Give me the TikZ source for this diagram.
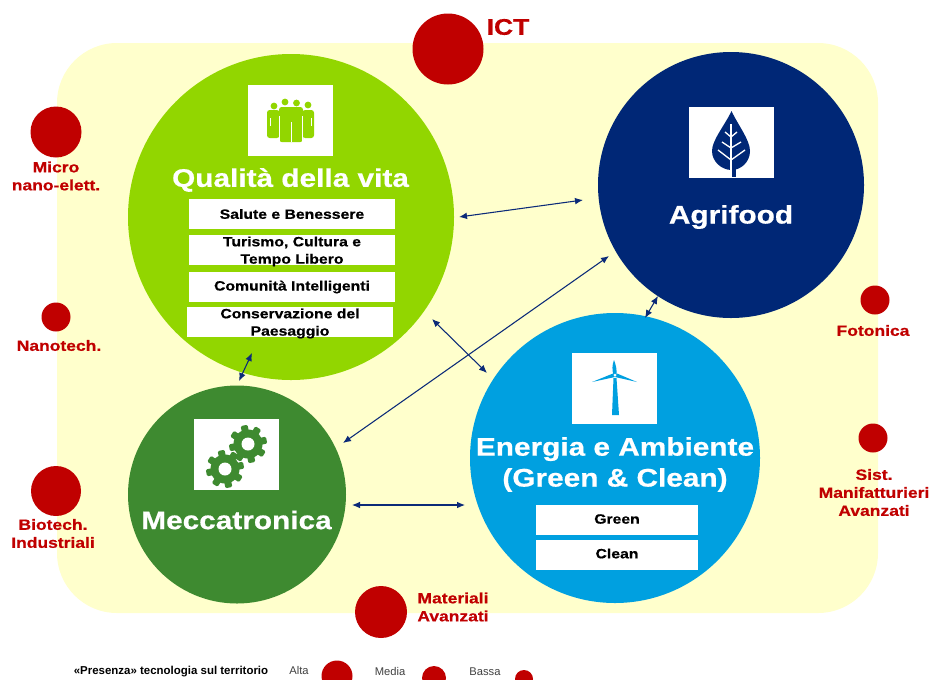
\documentclass[tikz,border=0pt]{standalone}
\usepackage{fontspec}
\usetikzlibrary{arrows.meta}
\setmainfont{Liberation Sans}
\newfontfamily\widefont{Liberation Sans}[FakeStretch=1.17,BoldFeatures={FakeStretch=1.17,FakeBold=0.6}]
\definecolor{crema}{HTML}{FFFFCC}
\definecolor{vita}{HTML}{92D600}
\definecolor{agri}{HTML}{002776}
\definecolor{ener}{HTML}{00A0E0}
\definecolor{mecc}{HTML}{3E8A30}
\definecolor{rosso}{HTML}{C00000}
\definecolor{freccia}{HTML}{0B2A78}
\newcommand{\gearicon}[2]{%
  \fill[mecc] (#1,#2) circle (14.5);
  \foreach \a in {0,45,...,315}
    \fill[mecc,rounded corners=1pt,rotate around={\a+12:(#1,#2)}] (#1-3.5,#2-12) rectangle (#1+3.5,#2-19);
  \fill[white] (#1,#2) circle (6.5);
}
\tikzset{
  px/.style={x=0.75pt,y=-0.75pt},
  disc/.style={circle,inner sep=0pt,minimum size=#1*0.75pt},
  icona/.style={fill=white,inner sep=0pt,minimum width=85*0.75pt,minimum height=71*0.75pt},
  voce/.style={fill=white,inner sep=0pt,minimum width=206*0.75pt,minimum height=30*0.75pt,align=center,
    font=\widefont\bfseries\fontsize{10.1}{13}\selectfont},
  titolo/.style={text=white,align=center,inner sep=0pt,
    font=\widefont\bfseries\fontsize{19.1}{23.2}\selectfont},
  tecno/.style={text=rosso,align=center,inner sep=0pt,
    font=\widefont\bfseries\fontsize{11.2}{13.5}\selectfont},
  legenda/.style={inner sep=0pt,text=black!75,font=\fontsize{8.4}{10}\selectfont},
  legame/.style={{Latex[length=6pt,width=5pt]}-{Latex[length=6pt,width=5pt]},freccia,line width=0.8pt},
}
\begin{document}
\begin{tikzpicture}[px]
      \useasboundingbox (0,0) rectangle (931,679);
      \clip (0,0) rectangle (931,679);
      \fill[crema,rounded corners=45pt] (57,43) rectangle (878,613);
      % aree
      \draw
        (291,217) node[disc=326,fill=vita] (vita){}
        (731,185) node[disc=266,fill=agri] (agrifood){}
        (615,458) node[disc=290,fill=ener] (energia){}
        (237,494.5) node[disc=218,fill=mecc] (meccatronica){};
      % tecnologie
      \draw
        (448,49) node[disc=71,fill=rosso] (ict){}
        (56,132) node[disc=51,fill=rosso] (micro){}
        (56,317) node[disc=29,fill=rosso] (nano){}
        (56,491) node[disc=50,fill=rosso] (biotech){}
        (875,300) node[disc=29,fill=rosso] (fotonica){}
        (873,438) node[disc=29,fill=rosso] (sist){}
        (381,612) node[disc=52,fill=rosso] (materiali){}
        (337,676) node[disc=31,fill=rosso] (alta){}
        (434,678) node[disc=24,fill=rosso] (media){}
        (524,679) node[disc=18,fill=rosso] (bassa){};
      \draw
        (508,27) node[tecno,font=\widefont\bfseries\fontsize{17}{18}\selectfont] (ictlab){ICT}
        (56,176) node[tecno] (microlab){Micro\\nano-elett.}
        (59,345.5) node[tecno] (nanolab){Nanotech.}
        (53,533.5) node[tecno] (biotechlab){Biotech.\\Industriali}
        (873,330.5) node[tecno] (fotonicalab){Fotonica}
        (874,492.5) node[tecno] (sistlab){Sist.\\Manifatturieri\\Avanzati}
        (453,607) node[tecno] (materialilab){Materiali\\Avanzati};
      % icone
      \draw
        (290.5,120) node[icona] (iconavita){}
        (731,142.5) node[icona] (iconaagri){}
        (614.5,388.5) node[icona] (iconaener){}
        (236.5,454) node[icona] (iconamecc){};
      % persone
      \begin{scope}[vita]
        \foreach \cx/\cy in {274/106,285/102,296.5/103,308/105}
          \fill (\cx,\cy) circle (3.4);
        \fill[rounded corners=2pt] (267,110) rectangle (279.5,138);
        \fill[rounded corners=2pt] (302.5,110) rectangle (314,138);
        \fill[rounded corners=2pt] (279,107) rectangle (303,142);
        \draw[white,line width=0.5pt] (270.5,118) -- (270.5,126);
        \draw[white,line width=0.5pt] (311,118) -- (311,126);
        \draw[white,line width=0.5pt] (279.5,116) -- (279.5,142);
        \draw[white,line width=0.5pt] (291,122) -- (291,142);
        \draw[white,line width=0.5pt] (302.5,116) -- (302.5,142);
      \end{scope}
      % foglia
      \fill[agri] (731.5,111) .. controls (725,125) and (712,140) .. (712,151)
        .. controls (712,162) and (722,170) .. (731.5,170)
        .. controls (741,170) and (750,162) .. (750,151)
        .. controls (750,140) and (738,125) .. (731.5,111) -- cycle;
      \fill[agri] (731,169) rectangle (736,177);
      \begin{scope}[white,line width=1pt]
        \draw (731,124) -- (731,177);
        \draw (718,150) -- (731,160) -- (745,150);
        \draw (722,142) -- (731,148) -- (741,142);
        \draw (725,132) -- (731,137) -- (737,132);
      \end{scope}
      % pala eolica
      \fill[ener] (613.5,378) -- (616.5,378) -- (619,415) -- (612,415) -- cycle;
      \fill[ener] (614,360) .. controls (612,365) and (612,370) .. (613.5,375) -- (616.5,375) .. controls (617,370) and (616,365) .. (614,360) -- cycle;
      \fill[ener] (592,382) -- (613,373.5) -- (615,377) -- cycle;
      \fill[ener] (637,382) -- (617,373.5) -- (615,377) -- cycle;
      \fill[white] (615,375) circle (1.5);
      % ingranaggi
      \gearicon{248}{444}
      \gearicon{225}{469}
      % titoli
      \draw
        (290.5,180) node[titolo] (titolovita){Qualità della vita}
        (731,217) node[titolo] (titoloagri){Agrifood}
        (615,464.5) node[titolo] (titoloener){Energia e Ambiente\\(Green \& Clean)}
        (236.5,520) node[titolo] (titolomecc){Meccatronica};
      % voci
      \draw
        (292,214) node[voce] (salute){}
        (292,250) node[voce] (turismo){}
        (292,286.5) node[voce] (comunita){}
        (290,322) node[voce] (paesaggio){}
        (617,520) node[voce,minimum width=162*0.75pt] (green){}
        (617,554.5) node[voce,minimum width=162*0.75pt] (clean){};
      \draw
        (292,214) node[voce,fill=none] (salutetxt){Salute e Benessere}
        (292,251.5) node[voce,fill=none] (turismotxt){Turismo, Cultura e\\Tempo Libero}
        (292,287) node[voce,fill=none] (comunitatxt){Comunità Intelligenti}
        (290,323.5) node[voce,fill=none] (paesaggiotxt){Conservazione del\\Paesaggio}
        (617,519) node[voce,fill=none,minimum width=162*0.75pt] (greentxt){Green}
        (617,553.5) node[voce,fill=none,minimum width=162*0.75pt] (cleantxt){Clean};
      % legenda
      \draw
        (171,671.5) node[legenda,text=black,font=\bfseries\fontsize{8.6}{10}\selectfont] (presenza){«Presenza» tecnologia sul territorio}
        (299,670) node[legenda] (altalab){Alta}
        (390,671) node[legenda] (medialab){Media}
        (485,672) node[legenda] (bassalab){Bassa};
      % legami
      \coordinate (a1) at (459,217);
      \coordinate (a2) at (583,200);
      \coordinate (b1) at (609,256);
      \coordinate (b2) at (343,443);
      \coordinate (c1) at (432,319);
      \coordinate (c2) at (487,373);
      \coordinate (d1) at (252,353);
      \coordinate (d2) at (239,381);
      \coordinate (e1) at (352,505);
      \coordinate (e2) at (465,505);
      \coordinate (f1) at (658,296);
      \coordinate (f2) at (645,318);
      \begin{scope}[legame]
        \draw (a1) to (a2);
        \draw (b1) to (b2);
        \draw (c1) to (c2);
        \draw (d1) to (d2);
        \draw (e1) to (e2);
        \draw (f1) to (f2);
      \end{scope}
    \end{tikzpicture}
\end{document}
